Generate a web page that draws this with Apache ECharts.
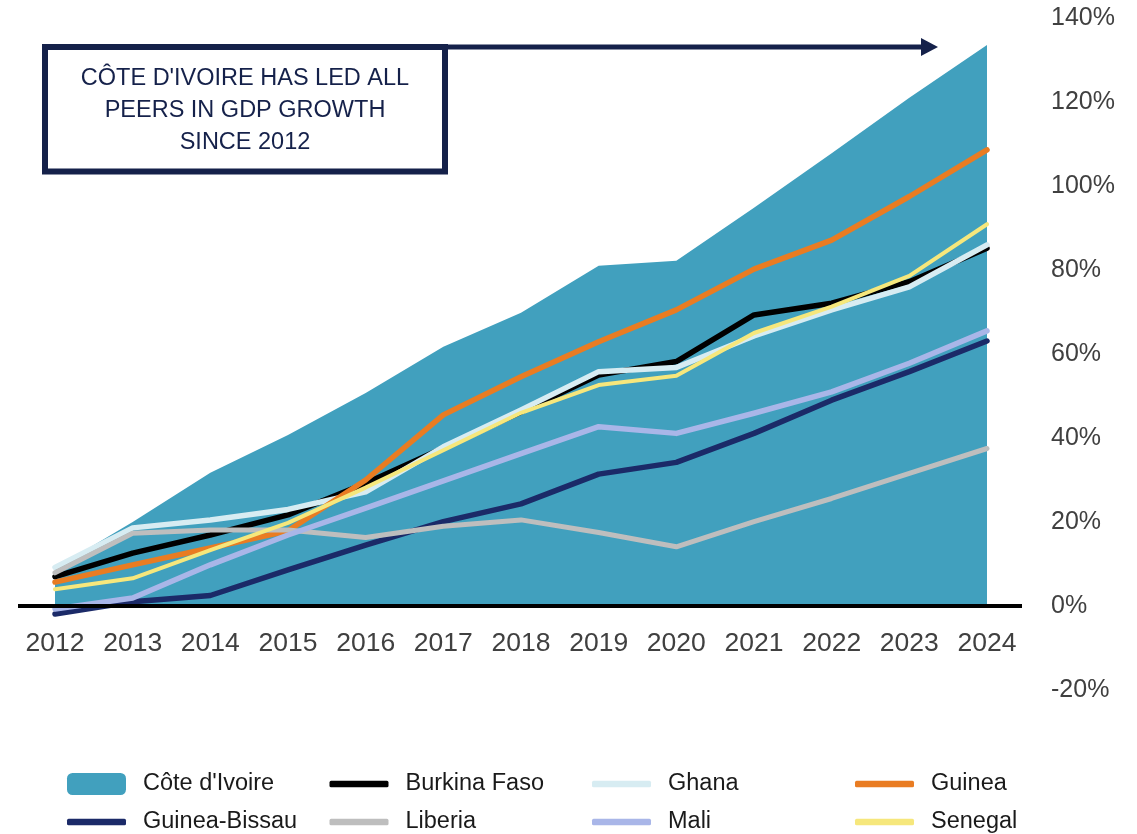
<!DOCTYPE html>
<html>
<head>
<meta charset="utf-8">
<script src="https://cdn.jsdelivr.net/npm/echarts@6/dist/echarts.min.js"></script>
<style>
  html, body { margin: 0; padding: 0; background: #fff; }
  #chart { width: 1137px; height: 834px; }
</style>
</head>
<body>
<div id="chart"></div>
<script>
const years = ['2012','2013','2014','2015','2016','2017','2018','2019','2020','2021','2022','2023','2024'];
const yTicks = { min: -20, max: 140, interval: 20 };

const coteDIvoire = [9, 20, 31.7, 40.7, 50.7, 61.7, 69.8, 81, 82.2, 94.8, 107.8, 121, 133.6];
const burkinaFaso = [7, 12.6, 16.9, 21.7, 29.2, 37.6, 46.2, 55, 58.2, 69.3, 72.1, 77.2, 85.2];
const ghana       = [9.2, 18.6, 20.5, 23, 27.2, 37.9, 46.7, 55.8, 56.8, 64.3, 70.5, 76, 86];
const guinea      = [5.7, 9.8, 13.8, 17.9, 30, 45.5, 54.6, 62.9, 70.5, 80.2, 87.1, 97.5, 108.6];
const guineaBissau= [-1.9, 1, 2.5, 8.6, 14.5, 20.1, 24.3, 31.4, 34.2, 41.1, 49, 55.8, 63.1];
const liberia     = [7.9, 17.3, 18.1, 18.1, 16.3, 19, 20.5, 17.5, 14.1, 20.1, 25.6, 31.6, 37.5];
const mali        = [-0.7, 1.9, 9.8, 16.9, 23.3, 29.8, 36.3, 42.7, 41.1, 45.9, 51, 57.8, 65.5];
const senegal     = [4, 6.6, 13.3, 19.8, 28.2, 37.1, 46, 52.6, 54.8, 65, 71.3, 78.6, 90.9];

const seriesNames = ["Côte d'Ivoire", 'Burkina Faso', 'Ghana', 'Guinea', 'Guinea-Bissau', 'Liberia', 'Mali', 'Senegal'];
const colors = {
  "Côte d'Ivoire": '#41A0BE',
  'Burkina Faso': '#000000',
  'Ghana': '#D7ECF2',
  'Guinea': '#E97C22',
  'Guinea-Bissau': '#1B2A68',
  'Liberia': '#BEBEBE',
  'Mali': '#A9B6E8',
  'Senegal': '#F6E77C'
};
const annotationLines = ["CÔTE D'IVOIRE HAS LED ALL", 'PEERS IN GDP GROWTH', 'SINCE 2012'];

const navy = '#15214A';
const font = 'Liberation Sans, Arial, sans-serif';
const chart = echarts.init(document.getElementById('chart'), null, { renderer: 'canvas' });

function lineSeries(name, data, width) {
  return {
    name, type: 'line', data,
    symbol: 'none', smooth: false,
    lineStyle: { color: colors[name], width: width || 5, cap: 'round', join: 'round' },
    itemStyle: { color: colors[name] },
    emphasis: { disabled: true },
    z: 3
  };
}

const legendCols = [67, 329.5, 592, 855];
const legendRows = [772, 810];
const legends = seriesNames.map((n, i) => ({
  data: [{ name: n, icon: 'roundRect' }],
  left: legendCols[i % 4],
  top: legendRows[Math.floor(i / 4)],
  padding: 0,
  itemWidth: 59,
  itemHeight: i === 0 ? 22 : 6.5,
  selectedMode: false,
  textStyle: { fontSize: 23.5, color: '#1A1A1A', fontFamily: font, padding: [0, 0, 0, 12] }
}));

chart.setOption({
  animation: false,
  backgroundColor: '#ffffff',
  grid: { left: 55, right: 150, top: 18, bottom: 144, containLabel: false },
  legend: legends,
  xAxis: {
    type: 'category', data: years, boundaryGap: false, position: 'bottom',
    axisLine: { show: false },
    axisTick: { show: false },
    axisLabel: { fontSize: 26.5, color: '#404040', margin: 24, fontFamily: font },
    splitLine: { show: false }
  },
  yAxis: {
    type: 'value', position: 'right',
    min: yTicks.min, max: yTicks.max, interval: yTicks.interval,
    axisLine: { show: false }, axisTick: { show: false }, splitLine: { show: false },
    axisLabel: { formatter: '{value}%', fontSize: 25, color: '#404040', margin: 64, align: 'left', fontFamily: font }
  },
  series: [
    {
      name: "Côte d'Ivoire", type: 'line', data: coteDIvoire, symbol: 'none',
      lineStyle: { width: 0, color: colors["Côte d'Ivoire"] },
      itemStyle: { color: colors["Côte d'Ivoire"] },
      areaStyle: { color: colors["Côte d'Ivoire"], opacity: 1, origin: 0 },
      emphasis: { disabled: true }, z: 1
    },
    lineSeries('Burkina Faso', burkinaFaso, 5.5),
    lineSeries('Ghana', ghana, 5.5),
    lineSeries('Guinea', guinea, 5.5),
    lineSeries('Guinea-Bissau', guineaBissau, 5.5),
    lineSeries('Liberia', liberia, 5),
    lineSeries('Mali', mali, 5.5),
    lineSeries('Senegal', senegal, 4)
  ]
});

const p0 = chart.convertToPixel({ gridIndex: 0 }, [0, 0]);
const pMin = chart.convertToPixel({ gridIndex: 0 }, [0, yTicks.min]);
const pEnd = chart.convertToPixel({ gridIndex: 0 }, [years.length - 1, 0]);
const textEls = annotationLines.map((t, i) => ({
  type: 'text',
  style: { text: t, x: 245, y: 79 + i * 32, align: 'center', verticalAlign: 'middle', fill: navy, fontSize: 23.5, fontFamily: font },
  z: 10
}));
chart.setOption({
  xAxis: { offset: -(pMin[1] - p0[1]) },
  graphic: [
    { type: 'line', shape: { x1: p0[0] - 37, y1: p0[1], x2: pEnd[0] + 35, y2: pEnd[1] }, style: { stroke: '#000', lineWidth: 4 }, z: 5 },
    { type: 'rect', shape: { x: 45, y: 47, width: 400, height: 124.5 }, style: { fill: '#fff', stroke: navy, lineWidth: 6 }, z: 10 },
    { type: 'line', shape: { x1: 445, y1: 47, x2: 924, y2: 47 }, style: { stroke: navy, lineWidth: 5 }, z: 10 },
    { type: 'polygon', shape: { points: [[921, 38], [938, 47], [921, 56]] }, style: { fill: navy }, z: 10 },
    ...textEls
  ]
});
</script>
</body>
</html>
